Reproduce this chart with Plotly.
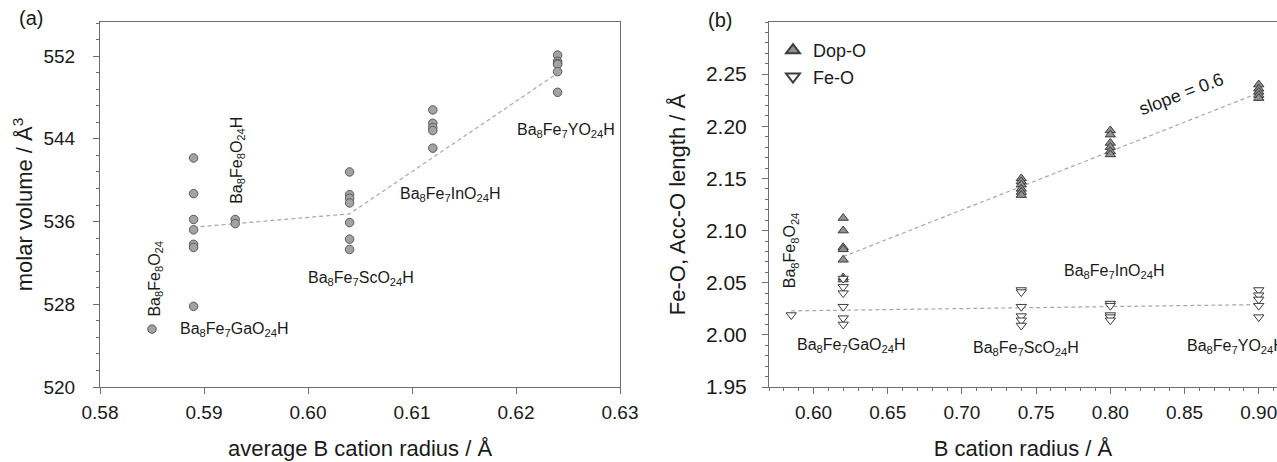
import plotly.graph_objects as go

# ---------------- Panel (a) data ----------------
avg_radius = [0.585, 0.589, 0.593, 0.604, 0.612, 0.624]
vol_Fe8O24 = [525.6]
vol_Ga = [542.15, 538.7, 536.2, 535.2, 533.8, 533.5, 527.8]
vol_Fe8O24H = [536.2, 535.8]
vol_Sc = [540.8, 538.6, 538.25, 537.8, 535.9, 534.3, 533.3]
vol_In = [546.8, 545.5, 545.1, 544.8, 543.1]
vol_Y = [552.1, 551.5, 551.3, 551.2, 550.5, 548.5]
vol_groups = [vol_Fe8O24, vol_Ga, vol_Fe8O24H, vol_Sc, vol_In, vol_Y]

fit_a_x = [0.589, 0.604, 0.624]
fit_a_y = [535.45, 536.75, 550.35]

labels_a = ["Ba<sub>8</sub>Fe<sub>8</sub>O<sub>24</sub>",
            "Ba<sub>8</sub>Fe<sub>7</sub>GaO<sub>24</sub>H",
            "Ba<sub>8</sub>Fe<sub>8</sub>O<sub>24</sub>H",
            "Ba<sub>8</sub>Fe<sub>7</sub>ScO<sub>24</sub>H",
            "Ba<sub>8</sub>Fe<sub>7</sub>InO<sub>24</sub>H",
            "Ba<sub>8</sub>Fe<sub>7</sub>YO<sub>24</sub>H"]
labels_a_x = [0.5853, 0.5929, 0.5932, 0.6051, 0.6137, 0.6248]
labels_a_y = [530.5, 525.6, 541.9, 530.5, 538.6, 544.85]
labels_a_rot = [-90, 0, -90, 0, 0, 0]

# ---------------- Panel (b) data ----------------
b_radius = [0.585, 0.62, 0.74, 0.80, 0.90]
dop_o = [[],
         [2.112, 2.100, 2.084, 2.082, 2.072, 2.055, 2.053],
         [2.150, 2.147, 2.144, 2.140, 2.137, 2.134],
         [2.196, 2.192, 2.184, 2.180, 2.176, 2.173],
         [2.240, 2.236, 2.233, 2.230, 2.227]]
fe_o = [[2.019],
        [2.054, 2.046, 2.040, 2.027, 2.016, 2.010],
        [2.043, 2.041, 2.027, 2.018, 2.014, 2.009],
        [2.030, 2.028, 2.019, 2.017, 2.014],
        [2.043, 2.038, 2.034, 2.028, 2.017]]

fit_dop_x = [0.62, 0.90]
fit_dop_y = [2.075, 2.232]
fit_fe_x = [0.585, 0.90]
fit_fe_y = [2.023, 2.029]

labels_b = ["Ba<sub>8</sub>Fe<sub>8</sub>O<sub>24</sub>",
            "Ba<sub>8</sub>Fe<sub>7</sub>GaO<sub>24</sub>H",
            "Ba<sub>8</sub>Fe<sub>7</sub>ScO<sub>24</sub>H",
            "Ba<sub>8</sub>Fe<sub>7</sub>InO<sub>24</sub>H",
            "Ba<sub>8</sub>Fe<sub>7</sub>YO<sub>24</sub>H",
            "slope = 0.6"]
labels_b_x = [0.5843, 0.6257, 0.7433, 0.8026, 0.8505, 0.848]
labels_b_y = [2.0813, 1.990, 1.987, 2.0605, 1.9885, 2.231]
labels_b_rot = [-90, 0, 0, 0, 0, -21]
labels_b_anchor = ["center", "center", "center", "center", "left", "center"]
labels_b_size = [16, 16, 16, 16, 16, 18]

FONT = "Liberation Sans, Arial, sans-serif"
TXT = "#1a1a1a"
AXC = "#6e6e6e"

fig = go.Figure()

# panel a points
xa, ya = [], []
for r, vals in zip(avg_radius, vol_groups):
    xa += [r] * len(vals)
    ya += vals
fig.add_trace(go.Scatter(x=fit_a_x, y=fit_a_y, mode="lines", xaxis="x", yaxis="y",
                         line=dict(color="#a8a8a8", width=1.2, dash="4px,3px"),
                         showlegend=False, hoverinfo="skip"))
fig.add_trace(go.Scatter(x=xa, y=ya, mode="markers", xaxis="x", yaxis="y",
                         marker=dict(symbol="circle", size=8.5, color="#a3a3a3",
                                     line=dict(color="#5a5a5a", width=1)),
                         showlegend=False))

# panel b
xd, yd, xf, yf = [], [], [], []
for r, vals in zip(b_radius, dop_o):
    xd += [r] * len(vals)
    yd += vals
for r, vals in zip(b_radius, fe_o):
    xf += [r] * len(vals)
    yf += vals
fig.add_trace(go.Scatter(x=fit_dop_x, y=fit_dop_y, mode="lines", xaxis="x2", yaxis="y2",
                         line=dict(color="#a8a8a8", width=1.2, dash="4px,3px"),
                         showlegend=False, hoverinfo="skip"))
fig.add_trace(go.Scatter(x=fit_fe_x, y=fit_fe_y, mode="lines", xaxis="x2", yaxis="y2",
                         line=dict(color="#a8a8a8", width=1.2, dash="4px,3px"),
                         showlegend=False, hoverinfo="skip"))
fig.add_trace(go.Scatter(x=xd, y=yd, mode="markers", xaxis="x2", yaxis="y2", name="Dop-O",
                         marker=dict(symbol="triangle-up", size=9, color="#919191",
                                     line=dict(color="#3c3c3c", width=1))))
fig.add_trace(go.Scatter(x=xf, y=yf, mode="markers", xaxis="x2", yaxis="y2", name="Fe-O",
                         marker=dict(symbol="triangle-down", size=9, color="white",
                                     line=dict(color="#3c3c3c", width=1))))

W, H = 1277, 462
ann = []
for t, x, y, rot in zip(labels_a, labels_a_x, labels_a_y, labels_a_rot):
    ann.append(dict(text=t, x=x, y=y, xref="x", yref="y", showarrow=False, textangle=rot,
                    font=dict(family=FONT, size=16, color=TXT)))
for t, x, y, rot, anc, sz in zip(labels_b, labels_b_x, labels_b_y, labels_b_rot, labels_b_anchor, labels_b_size):
    ann.append(dict(text=t, x=x, y=y, xref="x2", yref="y2", showarrow=False, textangle=rot,
                    xanchor=anc, font=dict(family=FONT, size=sz, color=TXT)))
ann.append(dict(text="(a)", x=17 / W, y=1 - 18 / H, xref="paper", yref="paper", showarrow=False,
                xanchor="left", yanchor="middle", font=dict(family=FONT, size=20, color=TXT)))
ann.append(dict(text="(b)", x=706 / W, y=1 - 20 / H, xref="paper", yref="paper", showarrow=False,
                xanchor="left", yanchor="middle", font=dict(family=FONT, size=20, color=TXT)))

ydom = [(H - 387) / H, (H - 22) / H]
common_axis = dict(showgrid=False, zeroline=False, showline=True, linecolor=AXC, linewidth=1,
                   ticks="outside", tickcolor=AXC, ticklen=6, automargin=False)
TITLE_FONT = dict(family=FONT, size=22, color=TXT)

fig.update_layout(
    width=W, height=H,
    margin=dict(l=0, r=0, t=0, b=0),
    paper_bgcolor="white", plot_bgcolor="white",
    font=dict(family=FONT, color=TXT),
    annotations=ann,
    xaxis=dict(common_axis, domain=[100 / W, 620 / W], range=[0.58, 0.63], dtick=0.01,
               tickformat=".2f", mirror=True, anchor="y", ticklabelstandoff=2,
               tickfont=dict(family=FONT, size=19, color=TXT),
               title=dict(text="average B cation radius / Å", font=TITLE_FONT, standoff=18)),
    yaxis=dict(common_axis, domain=ydom, range=[520, 555.3], tickvals=[520, 528, 536, 544, 552],
               mirror=True, anchor="x", ticklabelstandoff=14,
               tickfont=dict(family=FONT, size=19, color=TXT),
               minor=dict(dtick=1.6, tick0=520, ticks="outside", ticklen=3, tickcolor=AXC),
               title=dict(text="molar volume / Å<sup>3</sup>", font=TITLE_FONT, standoff=4)),
    xaxis2=dict(common_axis, domain=[769 / W, 1.0], range=[0.57, 0.9123],
                tickvals=[0.60, 0.65, 0.70, 0.75, 0.80, 0.85, 0.90],
                tickformat=".2f", mirror=True, anchor="y2", ticklabelstandoff=2,
                ticklabeloverflow="allow",
                tickfont=dict(family=FONT, size=19, color=TXT),
                minor=dict(dtick=0.01, tick0=0.57, ticks="outside", ticklen=3, tickcolor=AXC),
                title=dict(text="B cation radius / Å", font=TITLE_FONT, standoff=18)),
    yaxis2=dict(common_axis, domain=ydom, range=[1.95, 2.30],
                tickvals=[1.95, 2.00, 2.05, 2.10, 2.15, 2.20, 2.25],
                tickformat=".2f", mirror=False, anchor="x2", ticklabelstandoff=11,
                tickfont=dict(family=FONT, size=21, color=TXT),
                minor=dict(dtick=0.01, tick0=1.95, ticks="outside", ticklen=3, tickcolor=AXC),
                title=dict(text="Fe-O, Acc-O length / Å", font=TITLE_FONT, standoff=14)),
    legend=dict(x=773 / W, y=1 - 32 / H, xanchor="left", yanchor="top", bgcolor="rgba(0,0,0,0)",
                font=dict(family=FONT, size=18, color=TXT), tracegroupgap=0, itemsizing="constant"),
)

fig.write_html("out.html")
